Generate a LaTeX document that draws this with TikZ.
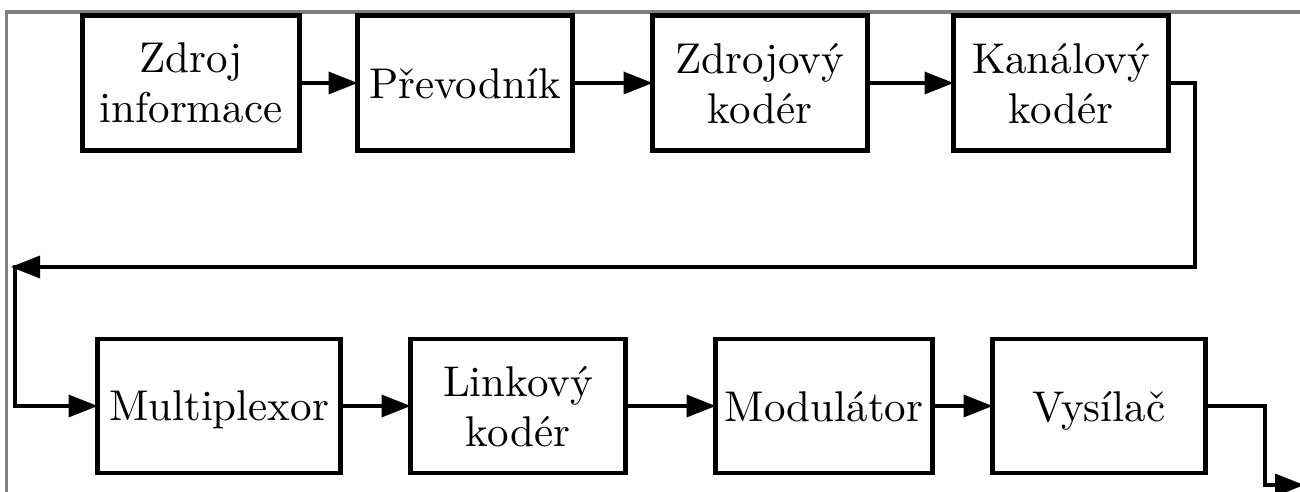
\documentclass[tikz,border=0pt]{standalone}
\usepackage{fontspec}
\setmainfont{lmroman10-regular.otf}
\usetikzlibrary{arrows.meta}
\begin{document}
\begin{tikzpicture}[x=1pt,y=-1pt,
  blok/.style={draw, line width=4.5pt, rectangle, outer sep=0pt, inner sep=2pt,
    align=center, text depth=0pt, font=\fontsize{43}{50}\selectfont},
  horni/.style={blok, minimum height=135pt},
  dolni/.style={blok, minimum height=134pt},
  spoj/.style={line width=4.5pt},
  sig/.style={spoj, -{Triangle[length=29pt,width=23pt,line width=0pt]}},
  ram/.style={draw=gray, line width=3.5pt}]
  \useasboundingbox (0,0) rectangle (1300,492);
  \clip (0,0) rectangle (1300,492);

  % frame edges
  \draw[ram] (6.5,495) -- (6.5,12) -- (1305,12);

  % upper chain
  \node[horni, minimum width=217pt] (zi) at (191,83) {Zdroj\\informace};
  \node[horni, minimum width=215pt] (pr) at (465,83) {Převodník};
  \node[horni, minimum width=215pt] (zk) at (760,83) {Zdrojový\\kodér};
  \node[horni, minimum width=215pt] (kk) at (1061,83) {Kanálový\\kodér};

  % lower chain
  \node[dolni, minimum width=243pt] (mx) at (219,406) {Multiplexor};
  \node[dolni, minimum width=215pt] (lk) at (518,406) {Linkový\\kodér};
  \node[dolni, minimum width=217pt] (mo) at (824,406) {Modulátor};
  \node[dolni, minimum width=213pt] (vy) at (1099,406) {Vysílač};

  % return path and output
  \coordinate (zl) at (1195,267);
  \coordinate (zt) at (11,267);
  \coordinate (zd) at (15,265);
  \coordinate (vo) at (1265,485);
  \coordinate (ve) at (1304,485);

  \draw[sig] (zi) -- (pr);
  \draw[sig] (pr) -- (zk);
  \draw[sig] (zk) -- (kk);
  \draw[sig] (kk.east) -| (zl) -- (zt);
  \draw[sig] (zd) |- (mx.west);
  \draw[sig] (mx) -- (lk);
  \draw[sig] (lk) -- (mo);
  \draw[sig] (mo) -- (vy);
  \draw[sig] (vy.east) -| (vo) -- (ve);
\end{tikzpicture}
\end{document}
